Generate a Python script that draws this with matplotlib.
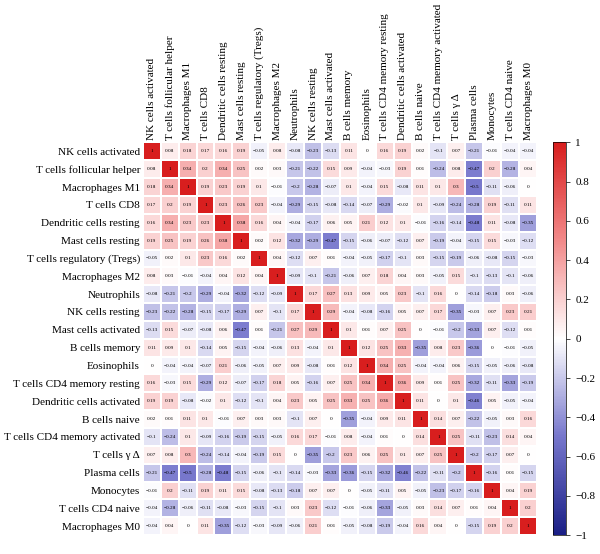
import numpy as np
import matplotlib
matplotlib.use("Agg")
import matplotlib.pyplot as plt
from matplotlib.colors import LinearSegmentedColormap

labels = ["NK cells activated", "T cells follicular helper", "Macrophages M1", "T cells CD8",
          "Dendritic cells resting", "Mast cells resting", "T cells regulatory (Tregs)",
          "Macrophages M2", "Neutrophils", "NK cells resting", "Mast cells activated",
          "B cells memory", "Eosinophils", "T cells CD4 memory resting",
          "Dendritic cells activated", "B cells naive", "T cells CD4 memory activated",
          "T cells \u03b3 \u0394", "Plasma cells", "Monocytes", "T cells CD4 naive", "Macrophages M0"]

corr = [
    [1, 0.08, 0.18, 0.17, 0.16, 0.19, -0.05, 0.08, -0.08, -0.23, -0.13, 0.11, 0, 0.16, 0.19, 0.02, -0.1, 0.07, -0.21, -0.01, -0.04, -0.04],
    [0.08, 1, 0.34, 0.2, 0.34, 0.25, 0.02, 0.03, -0.21, -0.22, 0.15, 0.09, -0.04, -0.03, 0.19, 0.01, -0.24, 0.08, -0.47, 0.2, -0.28, 0.04],
    [0.18, 0.34, 1, 0.19, 0.23, 0.19, 0.1, -0.01, -0.2, -0.28, -0.07, 0.1, -0.04, 0.15, -0.08, 0.11, 0.1, 0.3, -0.5, -0.11, -0.06, 0],
    [0.17, 0.2, 0.19, 1, 0.23, 0.26, 0.23, -0.04, -0.29, -0.15, -0.08, -0.14, -0.07, -0.29, -0.02, 0.1, -0.09, -0.24, -0.28, 0.19, -0.11, 0.11],
    [0.16, 0.34, 0.23, 0.23, 1, 0.38, 0.16, 0.04, -0.04, -0.17, 0.06, 0.05, 0.21, 0.12, 0.1, -0.01, -0.16, -0.14, -0.48, 0.11, -0.08, -0.35],
    [0.19, 0.25, 0.19, 0.26, 0.38, 1, 0.02, 0.12, -0.32, -0.29, -0.47, -0.15, -0.06, -0.07, -0.12, 0.07, -0.19, -0.04, -0.15, 0.15, -0.03, -0.12],
    [-0.05, 0.02, 0.1, 0.23, 0.16, 0.02, 1, 0.04, -0.12, 0.07, 0.01, -0.04, -0.05, -0.17, -0.1, 0.03, -0.15, -0.19, -0.06, -0.08, -0.15, -0.03],
    [0.08, 0.03, -0.01, -0.04, 0.04, 0.12, 0.04, 1, -0.09, -0.1, -0.21, -0.06, 0.07, 0.18, 0.04, 0.03, -0.05, 0.15, -0.1, -0.13, -0.1, -0.06],
    [-0.08, -0.21, -0.2, -0.29, -0.04, -0.32, -0.12, -0.09, 1, 0.17, 0.27, 0.13, 0.09, 0.05, 0.23, -0.1, 0.16, 0, -0.14, -0.18, 0.03, -0.06],
    [-0.23, -0.22, -0.28, -0.15, -0.17, -0.29, 0.07, -0.1, 0.17, 1, 0.29, -0.04, -0.08, -0.16, 0.05, 0.07, 0.17, -0.35, -0.03, 0.07, 0.23, 0.21],
    [-0.13, 0.15, -0.07, -0.08, 0.06, -0.47, 0.01, -0.21, 0.27, 0.29, 1, 0.1, 0.01, 0.07, 0.25, 0, -0.01, -0.2, -0.33, 0.07, -0.12, 0.01],
    [0.11, 0.09, 0.1, -0.14, 0.05, -0.15, -0.04, -0.06, 0.13, -0.04, 0.1, 1, 0.12, 0.25, 0.33, -0.35, 0.08, 0.23, -0.36, 0, -0.01, -0.05],
    [0, -0.04, -0.04, -0.07, 0.21, -0.06, -0.05, 0.07, 0.09, -0.08, 0.01, 0.12, 1, 0.34, 0.25, -0.04, -0.04, 0.06, -0.15, -0.05, -0.06, -0.08],
    [0.16, -0.03, 0.15, -0.29, 0.12, -0.07, -0.17, 0.18, 0.05, -0.16, 0.07, 0.25, 0.34, 1, 0.36, 0.09, 0.01, 0.25, -0.32, -0.11, -0.33, -0.19],
    [0.19, 0.19, -0.08, -0.02, 0.1, -0.12, -0.1, 0.04, 0.23, 0.05, 0.25, 0.33, 0.25, 0.36, 1, 0.11, 0, 0.1, -0.46, 0.05, -0.05, -0.04],
    [0.02, 0.01, 0.11, 0.1, -0.01, 0.07, 0.03, 0.03, -0.1, 0.07, 0, -0.35, -0.04, 0.09, 0.11, 1, 0.14, 0.07, -0.22, -0.05, 0.03, 0.16],
    [-0.1, -0.24, 0.1, -0.09, -0.16, -0.19, -0.15, -0.05, 0.16, 0.17, -0.01, 0.08, -0.04, 0.01, 0, 0.14, 1, 0.25, -0.11, -0.23, 0.14, 0.04],
    [0.07, 0.08, 0.3, -0.24, -0.14, -0.04, -0.19, 0.15, 0, -0.35, -0.2, 0.23, 0.06, 0.25, 0.1, 0.07, 0.25, 1, -0.2, -0.17, 0.07, 0],
    [-0.21, -0.47, -0.5, -0.28, -0.48, -0.15, -0.06, -0.1, -0.14, -0.03, -0.33, -0.36, -0.15, -0.32, -0.46, -0.22, -0.11, -0.2, 1, -0.16, 0.01, -0.15],
    [-0.01, 0.2, -0.11, 0.19, 0.11, 0.15, -0.08, -0.13, -0.18, 0.07, 0.07, 0, -0.05, -0.11, 0.05, -0.05, -0.23, -0.17, -0.16, 1, 0.04, 0.19],
    [-0.04, -0.28, -0.06, -0.11, -0.08, -0.03, -0.15, -0.1, 0.03, 0.23, -0.12, -0.01, -0.06, -0.33, -0.05, 0.03, 0.14, 0.07, 0.01, 0.04, 1, 0.2],
    [-0.04, 0.04, 0, 0.11, -0.35, -0.12, -0.03, -0.09, -0.06, 0.21, 0.01, -0.05, -0.08, -0.19, -0.04, 0.16, 0.04, 0, -0.15, 0.19, 0.2, 1],
]

cbar_ticks = [1, 0.8, 0.6, 0.4, 0.2, 0, -0.2, -0.4, -0.6, -0.8, -1]

plt.rcParams['font.family'] = ['Liberation Serif', 'DejaVu Serif']

cmap = LinearSegmentedColormap.from_list(
    "bwr_custom",
    [(0.0, "#1a1f86"), (0.25, "#7676cc"), (0.5, "#ffffff"), (0.75, "#f28a8a"), (1.0, "#d81e1e")])

M = np.array(corr, dtype=float)
n = len(labels)

fig = plt.figure(figsize=(6.0, 5.54), dpi=100)
ax = fig.add_axes([0.238, 0.034, 0.657, 0.709])
mesh = ax.pcolormesh(np.arange(n + 1), np.arange(n + 1), M, cmap=cmap, vmin=-1, vmax=1,
                     edgecolors="white", linewidth=0.3)
ax.set_xlim(0, n)
ax.set_ylim(n, 0)
ax.set_xticks(np.arange(n) + 0.5)
ax.set_yticks(np.arange(n) + 0.5)
ax.set_xticklabels(labels, rotation=90, fontsize=8)
ax.set_yticklabels(labels, fontsize=8)
ax.xaxis.tick_top()
ax.tick_params(length=0, pad=2)
for s in ax.spines.values():
    s.set_visible(False)

for i in range(n):
    for j in range(n):
        v = M[i, j]
        txt = "1" if v == 1 else ("0" if v == 0 else f"{v:g}".replace("-", "\u2212"))
        ax.text(j + 0.5, i + 0.5, txt, ha="center", va="center", fontsize=3.8, color="black")

cax = fig.add_axes([0.922, 0.034, 0.022, 0.709])
cb = fig.colorbar(mesh, cax=cax, ticks=cbar_ticks)
cb.ax.tick_params(labelsize=8, length=3, width=0.5)
cb.ax.set_yticklabels([("\u2212" + f"{abs(t):g}") if t < 0 else f"{t:g}" for t in cbar_ticks])
cb.outline.set_linewidth(0.5)

fig.savefig("out.png", dpi=100)
